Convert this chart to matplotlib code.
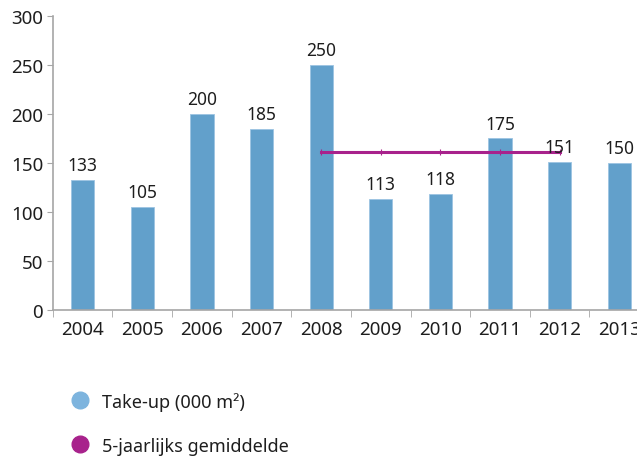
import numpy as np
import matplotlib.pyplot as plt
from matplotlib.lines import Line2D

plt.rcParams['font.family'] = ['Noto Sans', 'DejaVu Sans']

years = ['2004', '2005', '2006', '2007', '2008', '2009', '2010', '2011', '2012', '2013']
take_up = [133, 105, 200, 185, 250, 113, 118, 175, 151, 150]
# 5-year average, shown for 2008-2012
avg_5y = [np.nan, np.nan, np.nan, np.nan, 161.4, 161.4, 161.4, 161.4, 161.4, np.nan]

bar_color = '#62a0cb'
line_color = '#a8228c'
text_color = '#1e1e1e'
axis_color = '#a6a6a6'

fig = plt.figure(figsize=(6.37, 4.6), dpi=100)
ax = fig.add_axes([0.083, 0.324, 0.936, 0.639])

x = np.arange(len(years))
ax.bar(x, take_up, width=0.39, color=bar_color, edgecolor='#9cc4e2', linewidth=0.6, zorder=2)
ax.plot(x, avg_5y, color=line_color, linewidth=2.2, marker='|', markersize=4,
        markeredgewidth=0.8, zorder=3)

for xi, v in zip(x, take_up):
    ax.text(xi, v + 6, str(v), ha='center', va='bottom', fontsize=12.5, color=text_color)

ax.set_xlim(-0.5, len(years) - 0.5)
ax.set_ylim(0, 300)
ax.set_yticks(range(0, 301, 50))
ax.set_xticks(x)
ax.set_xticklabels(years)
ax.set_xticks(np.arange(-0.5, len(years)), minor=True)
ax.tick_params(axis='x', which='major', length=0, pad=7, labelsize=13.5, labelcolor=text_color)
ax.tick_params(axis='x', which='minor', length=5, color=axis_color, direction='out')
ax.tick_params(axis='y', length=4, color=axis_color, labelsize=13.5, labelcolor=text_color, pad=3)

for side in ['top', 'right']:
    ax.spines[side].set_visible(False)
for side in ['left', 'bottom']:
    ax.spines[side].set_color(axis_color)
    ax.spines[side].set_linewidth(1.2)

handles = [
    Line2D([], [], marker='o', linestyle='', markersize=12, color='#7db4de'),
    Line2D([], [], marker='o', linestyle='', markersize=12, color=line_color),
]
labels = ['Take-up (000 m\u00b2)', '5-jaarlijks gemiddelde']
fig.legend(handles, labels, loc='upper left', bbox_to_anchor=(0.086, 0.162),
           frameon=False, fontsize=13, labelspacing=1.45, handletextpad=0.2,
           labelcolor=text_color, borderaxespad=0)

fig.savefig('out.png', dpi=100)
